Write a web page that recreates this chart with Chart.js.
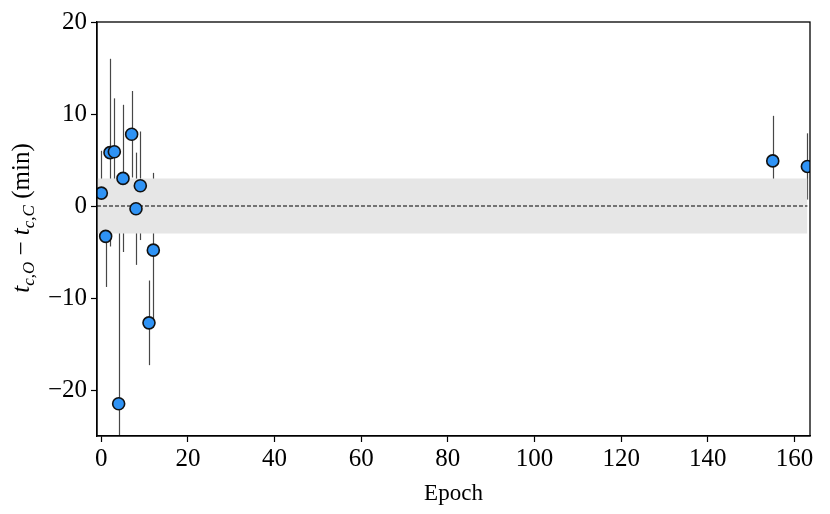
<!DOCTYPE html>
<html>
<head>
<meta charset="utf-8">
<script src="https://cdn.jsdelivr.net/npm/chart.js@4"></script>
<style>
  html, body { margin: 0; padding: 0; background: #fff; }
  #wrap { width: 830px; height: 514px; }
</style>
</head>
<body>
<div id="wrap"><canvas id="ttvChart"></canvas></div>
<script>
// transit timing residuals
const epochs    = [0, 1, 2, 3, 4, 5, 7, 8, 9, 11, 12, 155, 163];
const residuals = [1.4, -3.3, 5.8, 5.9, -21.5, 3.0, 7.8, -0.3, 2.2, -12.7, -4.8, 4.9, 4.3];
const errors    = [4.6, 5.5, 10.2, 5.8, 20.2, 8.0, 4.7, 6.1, 5.9, 4.6, 8.4, 4.9, 3.6];

const bandEdges = [-1, 163];   // x extent of the shaded band / zero line
const bandHalf  = 3;           // +/- 3 min
const xTicks = [0, 20, 40, 60, 80, 100, 120, 140, 160];
const yTicks = [-20, -10, 0, 10, 20];

const FONT = "'Liberation Serif', 'DejaVu Serif', serif";

const errorBars = {
    id: 'errorBars',
    beforeDatasetsDraw(chart) {
        const { ctx, chartArea, scales: { x, y } } = chart;
        ctx.save();
        ctx.beginPath();
        ctx.rect(chartArea.left, chartArea.top, chartArea.right - chartArea.left, chartArea.bottom - chartArea.top);
        ctx.clip();
        ctx.strokeStyle = 'rgba(0,0,0,0.72)';
        ctx.lineWidth = 1.2;
        epochs.forEach((e, i) => {
            const px = Math.round(x.getPixelForValue(e)) + 0.5;
            ctx.beginPath();
            ctx.moveTo(px, y.getPixelForValue(residuals[i] - errors[i]));
            ctx.lineTo(px, y.getPixelForValue(residuals[i] + errors[i]));
            ctx.stroke();
        });
        ctx.restore();
    }
};

const frame = {
    id: 'frame',
    afterDraw(chart) {
        const { ctx, chartArea: a } = chart;
        ctx.save();
        ctx.strokeStyle = '#000';
        ctx.lineWidth = 1.3;
        ctx.strokeRect(a.left, a.top, a.right - a.left, a.bottom - a.top);

        // y axis title with subscripts
        const parts = [
            { t: 't', f: 'italic 25px ' + FONT, dy: 0 },
            { t: 'c,O', f: 'italic 17px ' + FONT, dy: 5 },
            { t: ' \u2212 ', f: '25px ' + FONT, dy: 0 },
            { t: 't', f: 'italic 25px ' + FONT, dy: 0 },
            { t: 'c,C', f: 'italic 17px ' + FONT, dy: 5 },
            { t: ' (min)', f: '25px ' + FONT, dy: 0 }
        ];
        let total = 0;
        parts.forEach(p => { ctx.font = p.f; p.w = ctx.measureText(p.t).width; total += p.w; });
        ctx.translate(21, 218);
        ctx.rotate(-Math.PI / 2);
        ctx.fillStyle = '#000';
        ctx.textBaseline = 'alphabetic';
        let cx = -total / 2;
        parts.forEach(p => {
            ctx.font = p.f;
            ctx.fillText(p.t, cx, 8 + p.dy);
            cx += p.w;
        });
        ctx.restore();
    }
};

const ctx = document.getElementById('ttvChart').getContext('2d');

new Chart(ctx, {
    type: 'scatter',
    data: {
        datasets: [
            {
                label: 'data',
                data: epochs.map((e, i) => ({ x: e, y: residuals[i] })),
                backgroundColor: '#2f93f5',
                borderColor: '#111',
                borderWidth: 1.6,
                pointRadius: 6,
                order: 0
            },
            {
                label: 'zero',
                type: 'line',
                data: bandEdges.map(e => ({ x: e, y: 0 })),
                borderColor: '#000',
                borderWidth: 1,
                borderDash: [4, 2],
                pointRadius: 0,
                fill: false,
                order: 1
            },
            {
                label: 'upper',
                type: 'line',
                data: bandEdges.map(e => ({ x: e, y: bandHalf })),
                borderWidth: 0,
                borderColor: 'rgba(0,0,0,0)',
                backgroundColor: '#e6e6e6',
                pointRadius: 0,
                fill: '+1',
                order: 2
            },
            {
                label: 'lower',
                type: 'line',
                data: bandEdges.map(e => ({ x: e, y: -bandHalf })),
                borderWidth: 0,
                borderColor: 'rgba(0,0,0,0)',
                pointRadius: 0,
                fill: false,
                order: 3
            }
        ]
    },
    options: {
        responsive: true,
        maintainAspectRatio: false,
        animation: false,
        layout: { padding: { top: 22, right: 20, left: 0, bottom: 0 } },
        plugins: {
            legend: { display: false },
            tooltip: { enabled: false }
        },
        scales: {
            x: {
                type: 'linear',
                min: -1,
                max: 163.6,
                afterBuildTicks: s => { s.ticks = xTicks.map(v => ({ value: v })); },
                afterFit: s => { s.height = 78; },
                grid: { drawOnChartArea: false, drawTicks: true, tickLength: 6, tickColor: '#000', tickWidth: 1.2 },
                border: { display: true, color: '#000', width: 1.3 },
                ticks: {
                    color: '#000',
                    padding: 2,
                    maxRotation: 0,
                    font: { family: FONT, size: 25 }
                },
                title: {
                    display: true,
                    text: 'Epoch',
                    color: '#000',
                    font: { family: FONT, size: 23 },
                    padding: { top: 0, bottom: 6 }
                }
            },
            y: {
                type: 'linear',
                min: -25,
                max: 20,
                afterBuildTicks: s => { s.ticks = yTicks.map(v => ({ value: v })); },
                afterFit: s => { s.width = 97; },
                grid: { drawOnChartArea: false, drawTicks: true, tickLength: 6, tickColor: '#000', tickWidth: 1.2 },
                border: { display: true, color: '#000', width: 1.3 },
                ticks: {
                    color: '#000',
                    padding: 4,
                    font: { family: FONT, size: 25 },
                    callback: v => String(v).replace('-', '\u2212')
                }
            }
        }
    },
    plugins: [errorBars, frame]
});
</script>
</body>
</html>
